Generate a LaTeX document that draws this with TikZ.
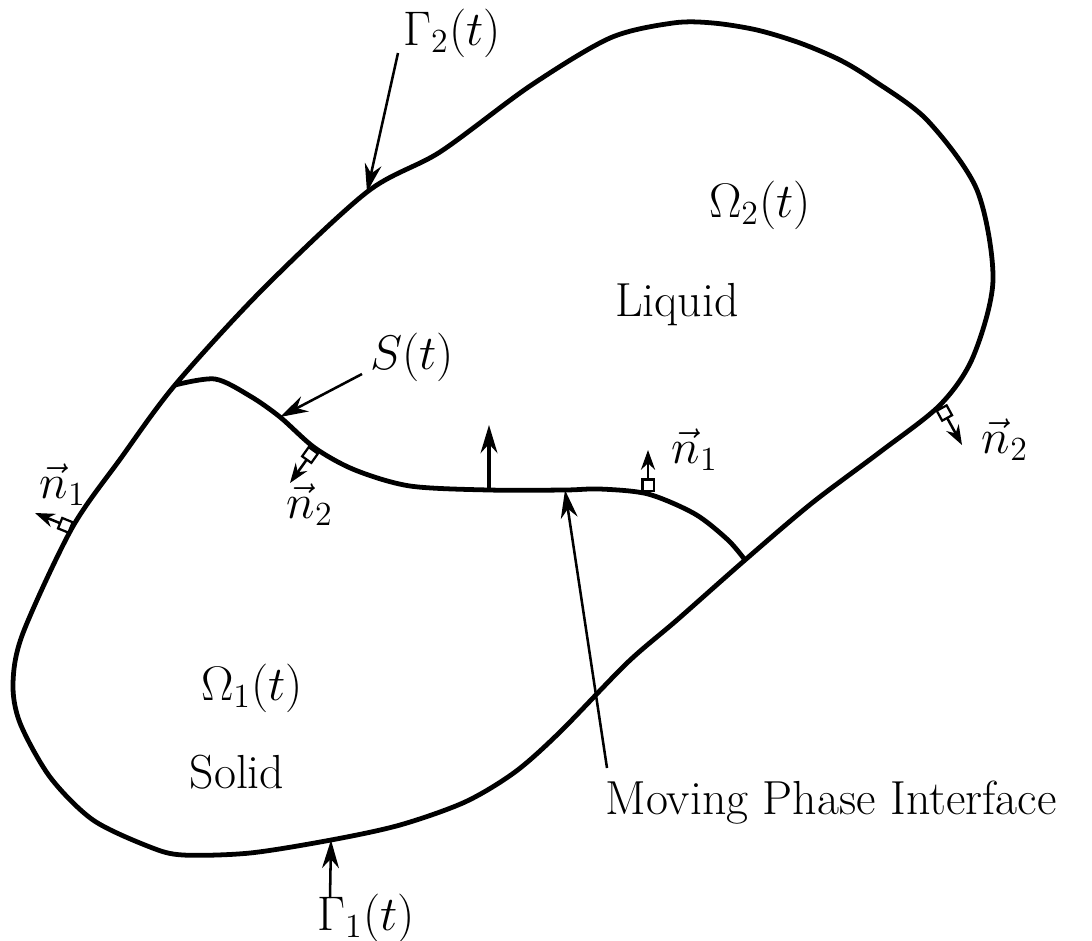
\documentclass[tikz,border=0pt]{standalone}
\usetikzlibrary{arrows.meta}
\begin{document}
\begin{tikzpicture}[
  x=0.0125cm, y=-0.0125cm,
  font=\fontsize{17}{20}\selectfont,
  bd/.style={line width=1.7pt, line join=round},
  ptr/.style={line width=0.9pt, -{Stealth[length=10pt,width=6pt]}},
  nrm/.style={line width=0.9pt, -{Stealth[length=7pt,width=5pt]}},
  sq/.style={draw, line width=0.8pt, fill=white, minimum size=4pt, inner sep=0pt},
  lbl/.style={inner sep=1pt}
]
\useasboundingbox (0,0) rectangle (1092,940);
% ---------------- points on the curves ----------------
\coordinate (J1) at (175,385);
\coordinate (J2) at (745,560);
\coordinate (G2) at (367,192);
\coordinate (G1) at (331,840);
\coordinate (N1L) at (72,528);
\coordinate (N2R) at (940,405);
\coordinate (S) at (280,417);
\coordinate (N2S) at (315,448);
\coordinate (U) at (489,490);
\coordinate (M) at (565,490);
\coordinate (N1S) at (648,494);
% ---------------- outer boundary ----------------
\draw[bd] plot[smooth cycle] coordinates {
  (J1) (262,290) (G2) (440,152) (530,86) (610,38)
  (673,23) (713,23) (757,30) (800,43) (840,60) (873,80) (927,120)
  (977,190) (993,280) (973,357) (N2R) (880,452) (812,503) (J2)
  (677,620) (627,663) (560,732) (515,772) (465,802) (400,825) (G1)
  (250,853) (183,855) (150,847) (93,820) (50,777) (20,723) (13,683)
  (23,633) (N1L) (121,458)};
% ---------------- phase interface ----------------
\draw[bd] plot[smooth] coordinates {
  (J1) (215,379) (250,396) (S) (N2S) (355,470) (410,486)
  (U) (M) (600,489) (N1S) (695,514) (728,540) (J2)};
% ---------------- pointers ----------------
\node[lbl] (g2) at (452,33) {$\Gamma_2(t)$};
\node[lbl] (g1) at (366,918) {$\Gamma_1(t)$};
\node[lbl] (st) at (412,357) {$S(t)$};
\node[lbl] (mpi) at (831,803) {Moving Phase Interface};
\coordinate (g2s) at (398,53);
\coordinate (g1s) at (330,898);
\coordinate (sts) at (362,374);
\coordinate (mps) at (607,768);
\draw[ptr] (g2s) -- (G2);
\draw[ptr] (g1s) -- (G1);
\draw[ptr] (sts) -- (S);
\draw[ptr] (mps) -- (M);
\coordinate (Ut) at (489,425);
\draw[ptr, line width=1.1pt] (U) -- (Ut);
% ---------------- normals ----------------
\coordinate (n1lt) at (35,513);
\coordinate (n2rt) at (962,445);
\coordinate (n2st) at (290,483);
\coordinate (n1st) at (648,450);
\draw[nrm] (N1L) -- node[sq, pos=0.18, sloped] {} (n1lt);
\draw[nrm] (N2R) -- node[sq, pos=0.2, sloped] {} (n2rt);
\draw[nrm] (N2S) -- node[sq, pos=0.2, sloped] {} (n2st);
\draw[nrm] (N1S) -- node[sq, pos=0.2, sloped] {} (n1st);
\node[lbl] (n1l) at (63,485) {$\vec{n}_1$};
\node[lbl] (n2r) at (1005,440) {$\vec{n}_2$};
\node[lbl] (n2s) at (310,505) {$\vec{n}_2$};
\node[lbl] (n1s) at (695,450) {$\vec{n}_1$};
% ---------------- regions ----------------
\node[lbl] (om2) at (760,205) {$\Omega_2(t)$};
\node[lbl] (liq) at (677,305) {Liquid};
\node[lbl] (om1) at (252,688) {$\Omega_1(t)$};
\node[lbl] (sol) at (237,772) {Solid};
\end{tikzpicture}
\end{document}
